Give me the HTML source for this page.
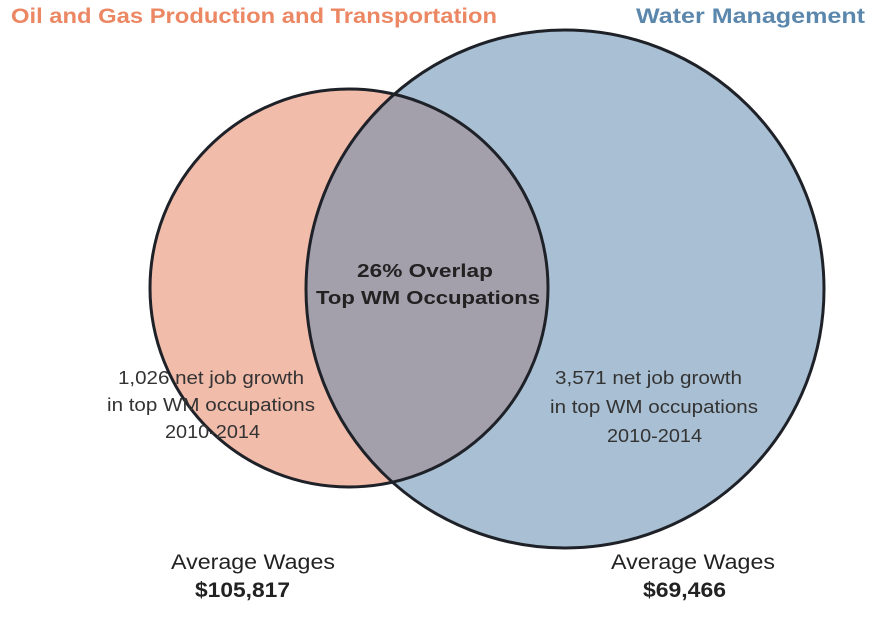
<!DOCTYPE html>
<html><head><style>
body{margin:0;background:#fff;width:893px;height:614px;overflow:hidden;font-family:"Liberation Sans",sans-serif;}
</style></head><body>
<svg width="893" height="614" viewBox="0 0 893 614" xmlns="http://www.w3.org/2000/svg">
<defs>
<clipPath id="cl"><circle cx="349" cy="288" r="199"/></clipPath>
</defs>
<circle cx="349" cy="288" r="199" fill="#f2bcab"/>
<circle cx="565" cy="289" r="259" fill="#a9bfd3"/>
<circle cx="565" cy="289" r="259" fill="#a39fab" clip-path="url(#cl)"/>
<circle cx="349" cy="288" r="199" fill="none" stroke="#1e2228" stroke-width="3"/>
<circle cx="565" cy="289" r="259" fill="none" stroke="#1e2228" stroke-width="3"/>
<text x="11" y="23" font-size="21" font-weight="bold" fill="#ec8764" textLength="486" lengthAdjust="spacingAndGlyphs">Oil and Gas Production and Transportation</text>
<text x="636" y="23" font-size="21" font-weight="bold" fill="#5b87ad" textLength="229" lengthAdjust="spacingAndGlyphs">Water Management</text>
<g font-size="18" font-weight="bold" fill="#222">
<text x="357" y="277" textLength="136" lengthAdjust="spacingAndGlyphs">26% Overlap</text>
<text x="316" y="304" textLength="224" lengthAdjust="spacingAndGlyphs">Top WM Occupations</text>
</g>
<g font-size="18" fill="#333">
<text x="118" y="384" textLength="186" lengthAdjust="spacingAndGlyphs">1,026 net job growth</text>
<text x="107" y="411" textLength="208" lengthAdjust="spacingAndGlyphs">in top WM occupations</text>
<text x="165" y="438" textLength="95" lengthAdjust="spacingAndGlyphs">2010-2014</text>
<text x="555" y="384" textLength="187" lengthAdjust="spacingAndGlyphs">3,571 net job growth</text>
<text x="550" y="413" textLength="208" lengthAdjust="spacingAndGlyphs">in top WM occupations</text>
<text x="607" y="442" textLength="95" lengthAdjust="spacingAndGlyphs">2010-2014</text>
</g>
<g fill="#222">
<text x="171" y="569" font-size="21" textLength="164" lengthAdjust="spacingAndGlyphs">Average Wages</text>
<text x="195" y="597" font-size="21" font-weight="bold" textLength="95" lengthAdjust="spacingAndGlyphs">$105,817</text>
<text x="611" y="569" font-size="21" textLength="164" lengthAdjust="spacingAndGlyphs">Average Wages</text>
<text x="643" y="597" font-size="21" font-weight="bold" textLength="83" lengthAdjust="spacingAndGlyphs">$69,466</text>
</g>
</svg>
</body></html>
